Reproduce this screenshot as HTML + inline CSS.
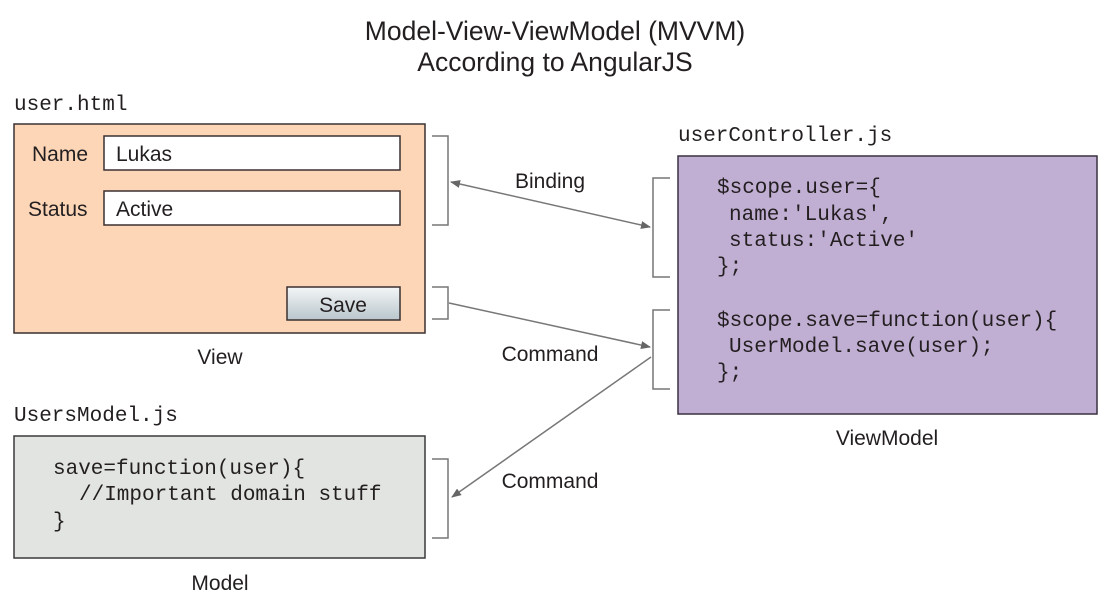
<!DOCTYPE html>
<html><head><meta charset="utf-8"><style>
body{margin:0;background:#fff}
svg{display:block}
.s{font-family:"Liberation Sans",sans-serif;fill:#231f20}
.m{font-family:"Liberation Mono",monospace;fill:#231f20}
</style></head><body>
<svg width="1109" height="602" viewBox="0 0 1109 602" xmlns="http://www.w3.org/2000/svg">
<defs>
<marker id="a" markerWidth="10" markerHeight="8" refX="9" refY="4" orient="auto-start-reverse" markerUnits="userSpaceOnUse">
<path d="M0,0 L10,4 L0,8 Z" fill="#666"/></marker>
<linearGradient id="g" x1="0" y1="0" x2="0" y2="1"><stop offset="0" stop-color="#f4f6f7"/><stop offset="1" stop-color="#b9c6cc"/></linearGradient>
</defs>
<text class="s" x="555" y="40" font-size="26.5" text-anchor="middle">Model-View-ViewModel (MVVM)</text>
<text class="s" x="555" y="71" font-size="26.5" text-anchor="middle">According to AngularJS</text>

<text class="m" x="14" y="110" font-size="21">user.html</text>
<rect x="14" y="124" width="411" height="209" fill="#fcd6b7" stroke="#3a3030" stroke-width="1.5"/>
<text class="s" x="32" y="161" font-size="21">Name</text>
<rect x="104" y="136" width="296" height="34" fill="#fff" stroke="#3a3030" stroke-width="1.5"/>
<text class="s" x="116" y="161" font-size="21">Lukas</text>
<text class="s" x="28" y="216" font-size="21">Status</text>
<rect x="104" y="191" width="296" height="34" fill="#fff" stroke="#3a3030" stroke-width="1.5"/>
<text class="s" x="116" y="216" font-size="21">Active</text>
<rect x="287" y="287" width="113" height="33" fill="url(#g)" stroke="#3a3030" stroke-width="1.5"/>
<text class="s" x="343" y="312" font-size="21" text-anchor="middle">Save</text>
<text class="s" x="220" y="364" font-size="21" text-anchor="middle">View</text>

<text class="m" x="678" y="141" font-size="21">userController.js</text>
<rect x="678" y="156" width="419" height="258" fill="#c0aed3" stroke="#3a3040" stroke-width="1.5"/>
<g class="m" font-size="21">
<text x="717" y="193">$scope.user={</text>
<text x="729" y="220">name:'Lukas',</text>
<text x="729" y="246">status:'Active'</text>
<text x="717" y="272">};</text>
<text x="717" y="326">$scope.save=function(user){</text>
<text x="729" y="352">UserModel.save(user);</text>
<text x="717" y="378">};</text>
</g>
<text class="s" x="887" y="445" font-size="21" text-anchor="middle">ViewModel</text>

<text class="m" x="14" y="421" font-size="21">UsersModel.js</text>
<rect x="14" y="436" width="411" height="122" fill="#e1e4e0" stroke="#3a3a3a" stroke-width="1.5"/>
<g class="m" font-size="21">
<text x="53" y="474">save=function(user){</text>
<text x="79" y="500">//Important domain stuff</text>
<text x="53" y="527">}</text>
</g>
<text class="s" x="220" y="590" font-size="21" text-anchor="middle">Model</text>

<g fill="none" stroke="#777" stroke-width="1.5">
<path d="M432,136 H448 V225 H432"/>
<path d="M432,287 H448 V319 H432"/>
<path d="M432,459 H448 V538 H432"/>
<path d="M670,178 H653 V277 H670"/>
<path d="M670,310 H653 V389 H670"/>
<line x1="451" y1="182" x2="650" y2="227" marker-start="url(#a)" marker-end="url(#a)"/>
<line x1="449" y1="303" x2="650" y2="347" marker-end="url(#a)"/>
<line x1="651" y1="357" x2="452" y2="497" marker-end="url(#a)"/>
</g>
<text class="s" x="550" y="188" font-size="21" text-anchor="middle">Binding</text>
<text class="s" x="550" y="361" font-size="21" text-anchor="middle">Command</text>
<text class="s" x="550" y="488" font-size="21" text-anchor="middle">Command</text>
</svg>
</body></html>
